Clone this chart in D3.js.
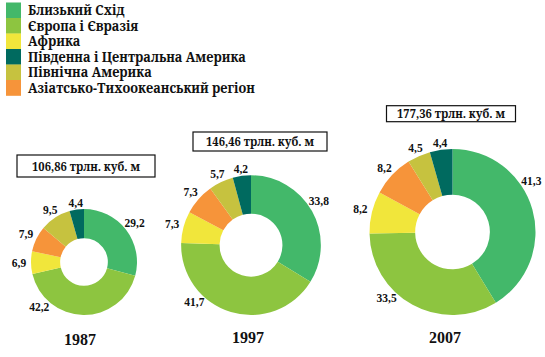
<!DOCTYPE html>
<html><head><meta charset="utf-8">
<script src="https://cdn.jsdelivr.net/npm/d3@7"></script>
<style>body{margin:0;background:#fff}svg{display:block}</style>
</head><body>
<svg id="c" width="545" height="357"></svg>
<script>
// ---- data ----
const categories = ["Близький Схід","Європа і Євразія","Африка","Південна і Центральна Америка","Північна Америка","Азіатсько-Тихоокеанський регіон"];
const years = ["1987","1997","2007"];
const totals = [106.86,146.46,177.36];
const middleEast = [29.2,33.8,41.3];
const europeEurasia = [42.2,41.7,33.5];
const africa = [6.9,7.3,8.2];
const southCentralAmerica = [4.4,4.2,4.4];
const northAmerica = [9.5,5.7,4.5];
const asiaPacific = [7.9,7.3,8.2];
const series = [middleEast,europeEurasia,africa,southCentralAmerica,northAmerica,asiaPacific];
// clockwise order of slices in each ring (indices into categories)
const sliceOrder = [0,1,2,5,4,3];

// ---- style / layout ----
const colors = ["#43b86a","#8dc540","#f1e63b","#006a5f","#c6c23f","#f6943a"];
const panelX = [84,251,452.5];
const ringBottom = 315;
const innerRatio = 0.45;
const boxCX = [86,260,451], boxCY = [166,141.5,113.7], boxW = [138,134,129], boxH = [22,19,16];
const yearX = [80,248,445], yearY = [345,343,343];
const serif = "'Liberation Serif','Times New Roman',serif";
const cyrSerif = "'Noto Serif','DejaVu Serif Condensed',serif";
const legendTextWidth = 227; // width of longest legend entry
const boxTextWidth = 108;

const svg = d3.select("#c");
const color = d3.scaleOrdinal().domain(categories).range(colors);
const rScale = d3.scaleLinear().domain([d3.min(totals), d3.max(totals)]).range([53,83]);
const fmt = v => d3.format(".1f")(v).replace(".", ",");
const fmt2 = v => d3.format(".2f")(v).replace(".", ",");

// legend
const leg = svg.append("g");
const legY = d3.scaleBand().domain(categories).range([2.5, 95.5]);
leg.selectAll("rect").data(categories).join("rect")
  .attr("x",6).attr("y",d=>legY(d)).attr("width",15).attr("height",legY.bandwidth()+0.3)
  .attr("fill",d=>color(d));
const legText = leg.selectAll("text").data(categories).join("text")
  .style("font-family",cyrSerif).attr("font-weight","bold").attr("font-size",14)
  .attr("fill","#111").text(d=>d);
const maxW = d3.max(legText.nodes(), n=>n.getComputedTextLength());
const k = legendTextWidth / maxW;
legText.attr("transform", d=>`translate(28,${legY(d)+legY.bandwidth()-3}) scale(${k},1)`);

const pie = d3.pie().sort(null).value(d=>d.value);
const lo = 57*Math.PI/180, hi = 225*Math.PI/180;

years.forEach((yr,p)=>{
  const R = rScale(totals[p]);
  const cx = panelX[p], cy = ringBottom - R;
  const data = sliceOrder.map(i=>({cat:categories[i], value:series[i][p]}));
  const arcs = pie(data);
  const arc = d3.arc().innerRadius(R*innerRatio).outerRadius(R);
  const g = svg.append("g").attr("transform",`translate(${cx},${cy})`);
  g.selectAll("path").data(arcs).join("path")
    .attr("d",arc).attr("fill",d=>color(d.data.cat));
  g.selectAll("text").data(arcs).join("text")
    .each(function(d){
      let a = (d.startAngle+d.endAngle)/2;
      if (a>lo && a<hi) a = (a-lo < hi-a) ? lo : hi;
      const r = R + 6 + Math.abs(Math.sin(a))*6;
      d3.select(this).attr("x", r*Math.sin(a)).attr("y", -r*Math.cos(a));
    })
    .attr("dy","0.35em").attr("text-anchor","middle")
    .style("font-family",serif).attr("font-weight","bold").attr("font-size",11.5)
    .attr("fill","#111").text(d=>fmt(d.data.value));
  // total box
  svg.append("rect").attr("x",boxCX[p]-boxW[p]/2).attr("y",boxCY[p]-boxH[p]/2)
    .attr("width",boxW[p]).attr("height",boxH[p])
    .attr("fill","#fff").attr("stroke","#111").attr("stroke-width",1.2);
  const bt = svg.append("text").attr("dy","0.35em")
    .attr("text-anchor","middle").style("font-family",cyrSerif).attr("font-weight","bold")
    .attr("font-size",13).attr("fill","#111").text(fmt2(totals[p])+" трлн. куб. м");
  const kb = boxTextWidth / bt.node().getComputedTextLength();
  bt.attr("transform",`translate(${boxCX[p]},${boxCY[p]}) scale(${kb},1)`);
  // year
  svg.append("text").attr("x",yearX[p]).attr("y",yearY[p]).attr("text-anchor","middle")
    .style("font-family",serif).attr("font-weight","bold").attr("font-size",16)
    .attr("fill","#111").text(yr);
});
</script>
</body></html>
